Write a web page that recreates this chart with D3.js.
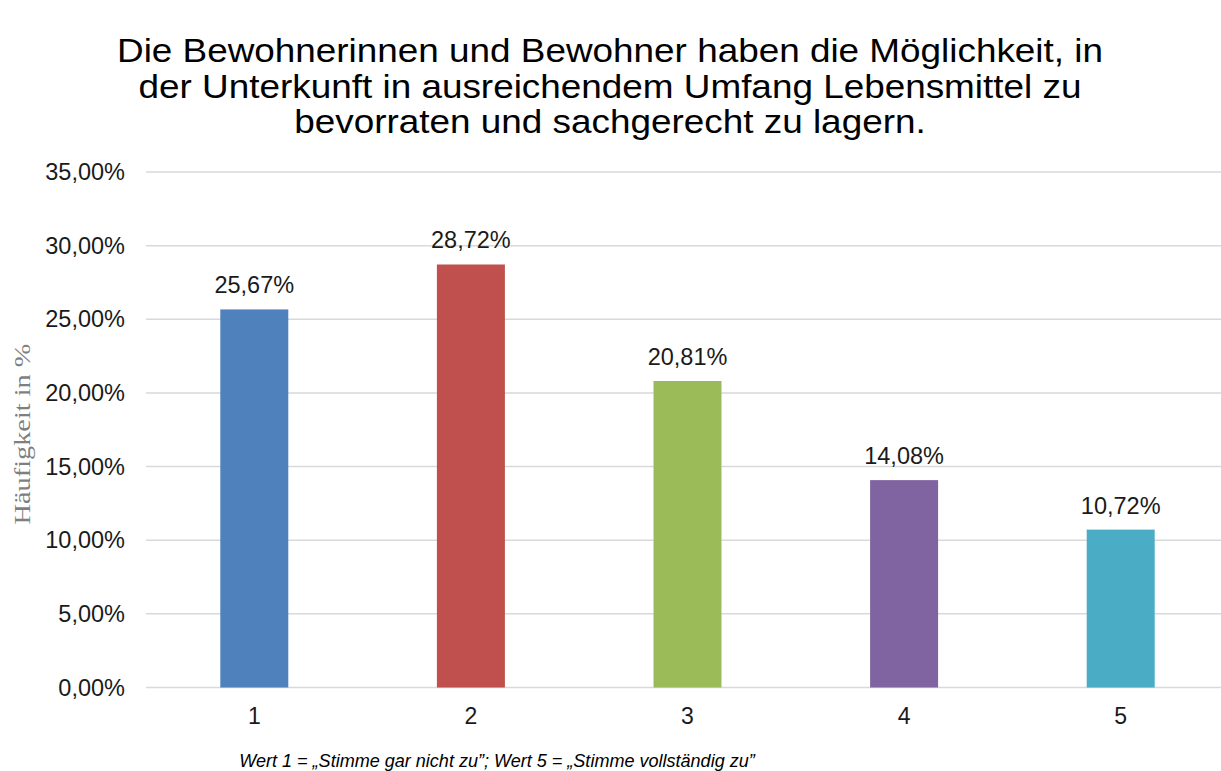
<!DOCTYPE html>
<html>
<head>
<meta charset="utf-8">
<script src="https://cdn.jsdelivr.net/npm/d3@7"></script>
<style>
  body { margin: 0; background: #fff; }
  svg { display: block; font-family: "Liberation Sans", Arial, sans-serif; }
</style>
</head>
<body>
<div id="chart"></div>
<script>
// chart data
var categories = ["1", "2", "3", "4", "5"];
var values = [25.67, 28.72, 20.81, 14.08, 10.72];
var barColors = ["#4f81bd", "#c0504d", "#9bbb59", "#8064a2", "#4bacc6"];
var yTicks = [0, 5, 10, 15, 20, 25, 30, 35];
var titleLines = [
  "Die Bewohnerinnen und Bewohner haben die Möglichkeit, in",
  "der Unterkunft in ausreichendem Umfang Lebensmittel zu",
  "bevorraten und sachgerecht zu lagern."
];
var yTitle = "Häufigkeit in %";
var footnote = "Wert 1 = „Stimme gar nicht zu\u201d; Wert 5 = „Stimme vollständig zu\u201d";

var width = 1221;
var height = 771;

var svg = d3.select("#chart")
  .append("svg")
  .attr("width", width)
  .attr("height", height);

// scales
var xScale = d3.scaleBand()
  .domain(categories)
  .range([146, 1229]);

var yScale = d3.scaleLinear()
  .domain([0, 35])
  .range([687.5, 172]);

var fmt = function(v) {
  return v.toFixed(2).replace(".", ",") + "%";
};

// gridlines
svg.append("g")
  .selectAll("line")
  .data(yTicks)
  .enter()
  .append("line")
  .attr("x1", 146)
  .attr("x2", 1229)
  .attr("y1", function(d) { return yScale(d); })
  .attr("y2", function(d) { return yScale(d); })
  .attr("stroke", "#d9d9d9")
  .attr("stroke-width", 1.5);

// y axis labels
var yAxis = d3.axisLeft(yScale)
  .tickValues(yTicks)
  .tickSize(0)
  .tickPadding(0)
  .tickFormat(fmt);

svg.append("g")
  .attr("class", "yAxis")
  .attr("transform", "translate(125,0)")
  .call(yAxis)
  .call(function(g) { g.select(".domain").remove(); })
  .selectAll("text")
  .attr("font-family", "Liberation Sans, Arial, sans-serif")
  .attr("font-size", 23.5)
  .attr("fill", "#1a1a1a");

// x axis labels
var xAxis = d3.axisBottom(xScale)
  .tickSize(0)
  .tickPadding(20);

svg.append("g")
  .attr("class", "xAxis")
  .attr("transform", "translate(0,687.5)")
  .call(xAxis)
  .call(function(g) { g.select(".domain").remove(); })
  .selectAll("text")
  .attr("font-family", "Liberation Sans, Arial, sans-serif")
  .attr("font-size", 23)
  .attr("fill", "#1a1a1a");

// bars
var barW = 68;
svg.append("g")
  .selectAll("rect")
  .data(values)
  .enter()
  .append("rect")
  .attr("x", function(d, i) { return xScale(categories[i]) + xScale.bandwidth() / 2 - barW / 2; })
  .attr("y", function(d) { return yScale(d); })
  .attr("width", barW)
  .attr("height", function(d) { return yScale(0) - yScale(d); })
  .attr("fill", function(d, i) { return barColors[i]; });

// value labels
svg.append("g")
  .selectAll("text")
  .data(values)
  .enter()
  .append("text")
  .attr("x", function(d, i) { return xScale(categories[i]) + xScale.bandwidth() / 2; })
  .attr("y", function(d) { return yScale(d) - 16; })
  .attr("text-anchor", "middle")
  .attr("font-size", 23.5)
  .attr("fill", "#1a1a1a")
  .text(fmt);

// title (slightly stretched horizontally like the original)
svg.append("g")
  .selectAll("text")
  .data(titleLines)
  .enter()
  .append("text")
  .attr("transform", function(d, i) { return "translate(610," + (62 + i * 35.5) + ")scale(1.135,1)"; })
  .attr("text-anchor", "middle")
  .attr("font-size", 32.5)
  .attr("fill", "#000")
  .text(function(d) { return d; });

// y axis title (stretched along its length like the original)
svg.append("text")
  .attr("transform", "translate(30,434)rotate(-90)scale(1.18,1)")
  .attr("text-anchor", "middle")
  .attr("font-family", "Liberation Serif, Times New Roman, serif")
  .attr("font-size", 24)
  .attr("fill", "#7f7f7f")
  .text(yTitle);

// footnote
svg.append("text")
  .attr("transform", "translate(497,767)scale(0.95,1)")
  .attr("text-anchor", "middle")
  .attr("font-size", 19)
  .attr("font-style", "italic")
  .attr("fill", "#000")
  .text(footnote);
</script>
</body>
</html>
